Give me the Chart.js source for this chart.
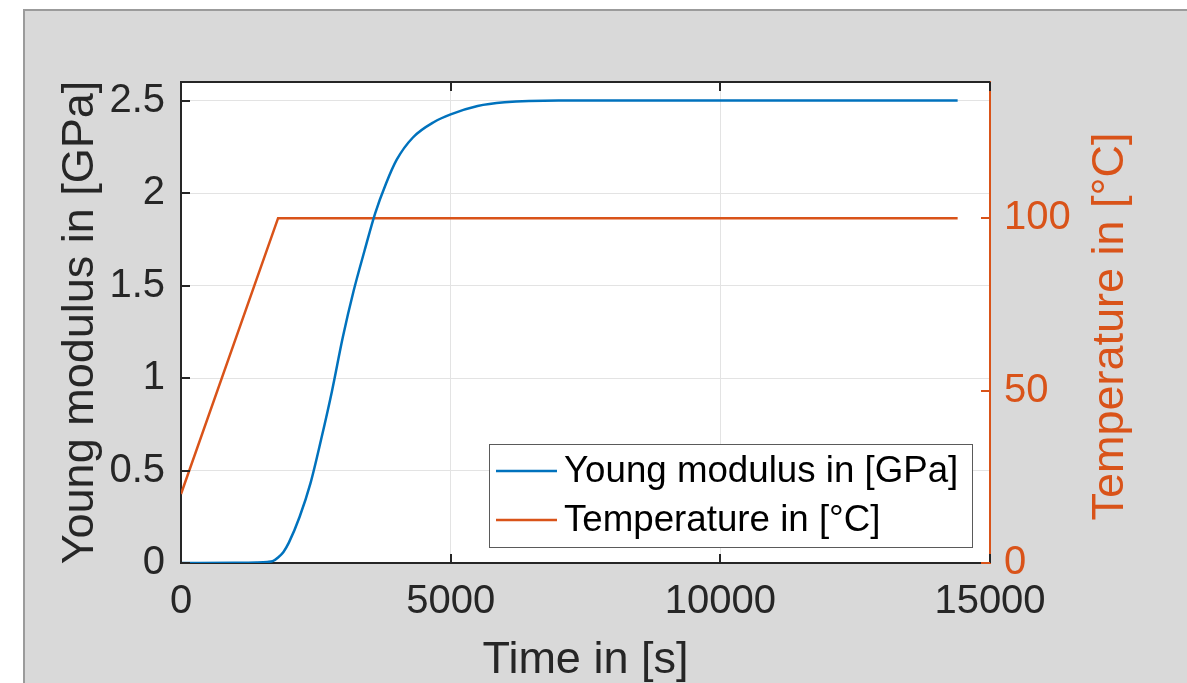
<!DOCTYPE html>
<html>
<head>
<meta charset="utf-8">
<title>Young modulus and temperature</title>
<script src="https://cdn.jsdelivr.net/npm/chart.js@4.4.1/dist/chart.umd.min.js"></script>
<style>
  html, body { margin: 0; padding: 0; background: #fff; }
  canvas { display: block; }
</style>
</head>
<body>
<canvas id="chart" width="1187" height="683"></canvas>
<script>
// Cure run: modulus and oven temperature against time
const modulusTime = [0, 1000, 1400, 1600, 1700, 1800, 1900, 2000, 2200, 2400, 2600, 2800, 3000, 3200, 3400, 3600, 3800, 4000, 4300, 4700, 5000, 5500, 6000, 7000, 10000, 14400];
const youngModulus = [0, 0.001, 0.003, 0.006, 0.01, 0.03, 0.06, 0.11, 0.25, 0.43, 0.67, 0.93, 1.22, 1.47, 1.685, 1.89, 2.05, 2.18, 2.30, 2.385, 2.425, 2.47, 2.49, 2.5, 2.5, 2.5];
const tempTime = [0, 1800, 14400];
const temperature = [20, 100, 100];

// tick labels
const timeTicks = [0, 5000, 10000, 15000];
const modulusTicks = [0, 0.5, 1, 1.5, 2, 2.5];
const tempTicks = [0, 50, 100];

const BLUE = '#0072BD';
const ORANGE = '#D95319';
const AXIS = '#262626';
const GRID = '#e3e3e3';
const FONT = '"Liberation Sans", Arial, Helvetica, sans-serif';
const TICK = 9;

Chart.defaults.font.family = FONT;

const toPoints = (xs, ys) => xs.map((x, i) => ({ x, y: ys[i] }));
const useTicks = list => scale => { scale.ticks = list.map(value => ({ value })); };

// MATLAB-ish figure: grey window, inward ticks, boxed axes, legend in the corner
const matlabFrame = {
  id: 'matlabFrame',
  beforeDraw(chart) {
    const { ctx, chartArea: a, width, height } = chart;
    ctx.save();
    ctx.fillStyle = '#fff';
    ctx.fillRect(0, 0, width, height);
    ctx.fillStyle = '#d9d9d9';
    ctx.fillRect(23, 9, width - 23, height - 9);
    ctx.fillStyle = '#9b9b9b';
    ctx.fillRect(23, 9, 2, height - 9);
    ctx.fillRect(23, 9, width - 23, 2);
    ctx.fillStyle = '#fff';
    ctx.fillRect(a.left, a.top, a.right - a.left, a.bottom - a.top);
    ctx.restore();
  },
  afterDraw(chart) {
    const { ctx, chartArea: a, scales } = chart;
    ctx.save();

    // top edge of the box
    ctx.fillStyle = AXIS;
    ctx.fillRect(a.left - 1, a.top - 1, a.right - a.left + 1, 2);

    // ticks point inward
    ctx.lineWidth = 2;
    ctx.strokeStyle = AXIS;
    ctx.beginPath();
    scales.x.ticks.forEach(t => {
      const px = Math.round(scales.x.getPixelForValue(t.value));
      ctx.moveTo(px, a.bottom);
      ctx.lineTo(px, a.bottom - TICK);
      ctx.moveTo(px, a.top);
      ctx.lineTo(px, a.top + TICK);
    });
    scales.y.ticks.forEach(t => {
      const py = Math.round(scales.y.getPixelForValue(t.value));
      ctx.moveTo(a.left, py);
      ctx.lineTo(a.left + TICK, py);
    });
    ctx.stroke();
    ctx.strokeStyle = ORANGE;
    ctx.beginPath();
    scales.y2.ticks.forEach(t => {
      const py = Math.round(scales.y2.getPixelForValue(t.value));
      ctx.moveTo(a.right, py);
      ctx.lineTo(a.right - TICK, py);
    });
    ctx.stroke();

    // right axis title reads bottom to top, like the left one
    ctx.save();
    ctx.translate(1123, (a.top + a.bottom) / 2 + 4);
    ctx.rotate(-Math.PI / 2);
    ctx.fillStyle = ORANGE;
    ctx.font = '45px ' + FONT;
    ctx.textAlign = 'center';
    ctx.textBaseline = 'alphabetic';
    ctx.fillText('Temperature in [°C]', 0, 0);
    ctx.restore();

    // legend box
    ctx.font = '36.7px ' + FONT;
    const sets = chart.data.datasets;
    const textW = Math.max(...sets.map(d => ctx.measureText(d.label).width));
    const boxW = Math.round(75 + textW + 14);
    const boxH = 103;
    const bx = Math.round(a.right - 18 - boxW);
    const by = Math.round(a.bottom - 16 - boxH);
    ctx.fillStyle = '#fff';
    ctx.fillRect(bx, by, boxW, boxH);
    ctx.strokeStyle = '#5a5a5a';
    ctx.lineWidth = 1;
    ctx.strokeRect(bx + 0.5, by + 0.5, boxW, boxH);
    ctx.textAlign = 'left';
    ctx.textBaseline = 'middle';
    sets.forEach((d, i) => {
      const ry = by + 27 + i * 49;
      ctx.strokeStyle = d.borderColor;
      ctx.lineWidth = 2.5;
      ctx.beginPath();
      ctx.moveTo(bx + 7, ry);
      ctx.lineTo(bx + 68, ry);
      ctx.stroke();
      ctx.fillStyle = '#000';
      ctx.fillText(d.label, bx + 75, ry + 1);
    });

    ctx.restore();
  }
};

new Chart(document.getElementById('chart'), {
  type: 'line',
  data: {
    datasets: [
      {
        label: 'Young modulus in [GPa]',
        data: toPoints(modulusTime, youngModulus),
        borderColor: BLUE,
        borderWidth: 2.5,
        pointRadius: 0,
        cubicInterpolationMode: 'monotone',
        yAxisID: 'y'
      },
      {
        label: 'Temperature in [°C]',
        data: toPoints(tempTime, temperature),
        borderColor: ORANGE,
        borderWidth: 2.5,
        pointRadius: 0,
        tension: 0,
        yAxisID: 'y2'
      }
    ]
  },
  options: {
    responsive: false,
    animation: false,
    devicePixelRatio: 1,
    layout: { padding: { top: 82, left: 0, right: 0, bottom: 0 } },
    plugins: {
      legend: { display: false },
      tooltip: { enabled: false }
    },
    scales: {
      x: {
        type: 'linear',
        min: 0,
        max: 15000,
        afterBuildTicks: useTicks(timeTicks),
        afterFit: s => { s.height = 120; },
        grid: {
          color: c => (c.index === 0 || c.index === timeTicks.length - 1) ? 'transparent' : GRID,
          drawTicks: false
        },
        border: { color: AXIS, width: 2 },
        ticks: {
          color: AXIS,
          font: { size: 40 },
          padding: 15,
          maxRotation: 0,
          autoSkip: false,
          callback: v => String(v)
        },
        title: {
          display: true,
          text: 'Time in [s]',
          color: AXIS,
          font: { size: 45, lineHeight: 1 },
          padding: { top: 0, bottom: 0 }
        }
      },
      y: {
        position: 'left',
        min: 0,
        max: 2.6,
        afterBuildTicks: useTicks(modulusTicks),
        afterFit: s => { s.width = 181; },
        grid: { color: GRID, drawTicks: false },
        border: { color: AXIS, width: 2 },
        ticks: {
          color: AXIS,
          font: { size: 40 },
          padding: 16,
          callback: v => String(v)
        },
        title: {
          display: true,
          text: 'Young modulus in [GPa]',
          color: AXIS,
          font: { size: 45, lineHeight: 1 },
          padding: { top: 58, bottom: 0 }
        }
      },
      y2: {
        position: 'right',
        min: 0,
        max: 139.5,
        afterBuildTicks: useTicks(tempTicks),
        afterFit: s => { s.width = 197; },
        grid: { display: false, drawTicks: false },
        border: { color: ORANGE, width: 2 },
        ticks: {
          color: ORANGE,
          font: { size: 40 },
          padding: 14,
          callback: v => String(v)
        }
      }
    }
  },
  plugins: [matlabFrame]
});
</script>
</body>
</html>
